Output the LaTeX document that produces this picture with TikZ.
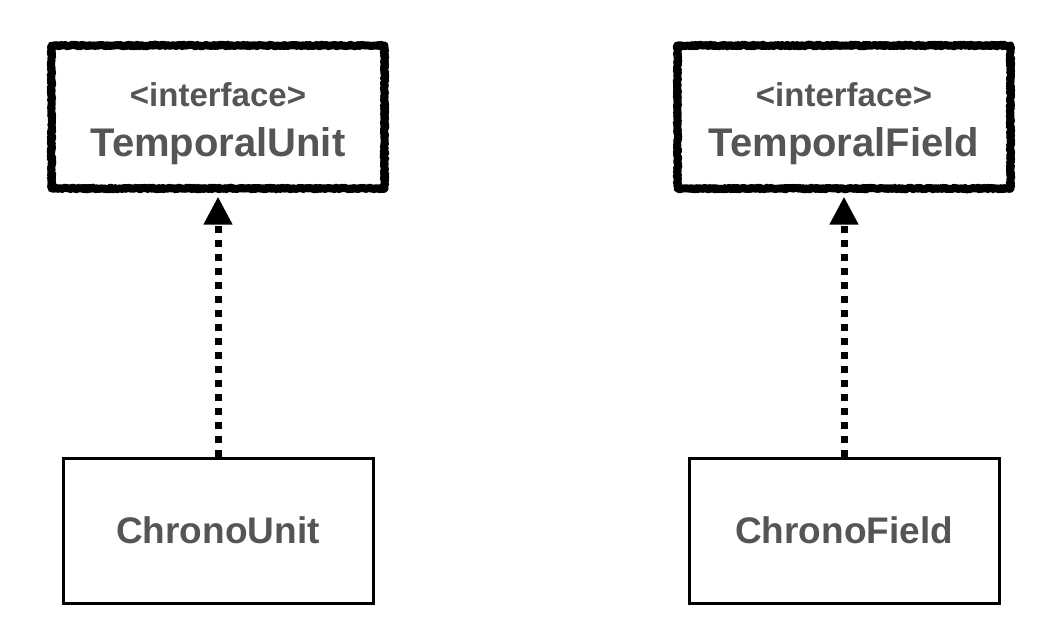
\documentclass[tikz,border=0pt]{standalone}
\usepackage{fontspec}
\setsansfont{Liberation Sans}
\usepackage{tikz}
\usetikzlibrary{arrows.meta, positioning, decorations.pathmorphing}
\definecolor{umltext}{RGB}{85,85,85}
\tikzset{
  rough/.style={draw, decorate, line join=round, line cap=round,
                decoration={random steps, segment length=1pt, amplitude=0.8pt}},
  cls/.style={rectangle, align=center, text=umltext,
              font=\sffamily\bfseries\fontsize{37}{44}\selectfont},
  iface/.style={cls, minimum width=333pt, minimum height=143pt, outer sep=8pt,
                preaction={rough, line width=8pt},
                postaction={rough, line width=1.5pt,
                            decoration={random steps, segment length=2pt, amplitude=2.5pt}},
                postaction={rough, line width=1pt,
                            decoration={random steps, segment length=1.5pt, amplitude=3pt}}},
  impl/.style={cls, draw, line width=3pt, minimum width=310pt, minimum height=145pt},
  realizes/.style={-{Triangle[length=28pt, width=27pt]}, line width=7pt,
                   dash pattern=on 7pt off 7pt},
}
\begin{document}
\begin{tikzpicture}[x=1pt, y=-1pt]
  \pgfmathsetseed{7}
  \useasboundingbox (0,0) rectangle (1053,638);
  \node[iface] (tunit) at (218,117)
    {\rule{0pt}{38pt}{\fontsize{33}{36}\selectfont <interface>}\\[6pt]
     {\fontsize{40}{46}\selectfont TemporalUnit}};
  \node[iface] (tfield) at (844,117)
    {\rule{0pt}{38pt}{\fontsize{33}{36}\selectfont <interface>}\\[6pt]
     {\fontsize{40}{46}\selectfont TemporalField}};
  \node[impl] (cunit) at (218,530.5) {ChronoUnit};
  \node[impl] (cfield) at (844,530.5) {ChronoField};
  \draw[realizes] (cunit) -- (tunit);
  \draw[realizes] (cfield) -- (tfield);
\end{tikzpicture}
\end{document}
